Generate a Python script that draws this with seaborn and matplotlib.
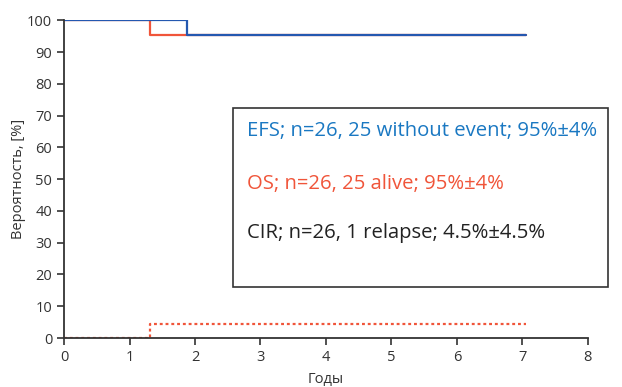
import matplotlib
matplotlib.use("Agg")
import matplotlib.pyplot as plt
import seaborn as sns
import pandas as pd
from matplotlib.patches import Rectangle

efs_t = [0, 1.88, 7.05]
efs_v = [100, 95.5, 95.5]
os_t = [0, 1.32, 7.05]
os_v = [100, 95.5, 95.5]
cir_t = [0, 1.32, 7.05]
cir_v = [0, 4.5, 4.5]

legend_lines = ["EFS; n=26, 25 without event; 95%±4%",
                "OS; n=26, 25 alive; 95%±4%",
                "CIR; n=26, 1 relapse; 4.5%±4.5%"]

sns.set_style("ticks")
plt.rcParams['font.family'] = ['Open Sans', 'DejaVu Sans']

fig = plt.figure(figsize=(6.22, 3.87), dpi=100)
ax = fig.add_axes([0.103, 0.1266, 0.842, 0.821])

blue = "#2458b0"
red = "#f0553a"

sns.lineplot(x=os_t, y=os_v, ax=ax, drawstyle="steps-post", color=red, lw=1.6, estimator=None)
sns.lineplot(x=cir_t, y=cir_v, ax=ax, drawstyle="steps-post", color=red, lw=1.6, ls=(0, (1.3, 1.3)), estimator=None)
sns.lineplot(x=efs_t, y=efs_v, ax=ax, drawstyle="steps-post", color=blue, lw=1.6, estimator=None)

ax.set_xlim(0, 8)
ax.set_ylim(0, 100)
ax.set_xticks(range(0, 9))
ax.set_yticks(range(0, 101, 10))
ax.tick_params(labelsize=10.5, colors="#333333", length=5, width=1.2)
for s in ["left", "bottom"]:
    ax.spines[s].set_linewidth(1.3)
    ax.spines[s].set_color("#333333")
sns.despine(ax=ax)
ax.set_xlabel("Годы", fontsize=10.5, color="#333333")
ax.set_ylabel("Вероятность, [%]", fontsize=10.5, color="#333333")
ax.yaxis.set_label_coords(-0.073, 0.5)
ax.xaxis.set_label_coords(0.5, -0.108)

rect = Rectangle((233/622, 1-287/387), (608-233)/622, (287-108)/387,
                 transform=fig.transFigure, fill=False, edgecolor="#333333", lw=1.2)
fig.add_artist(rect)
cols = ["#1a78c2", "#f0553a", "#222222"]
ys = [131, 184, 233]
for txt, c, y in zip(legend_lines, cols, ys):
    fig.text(247/622, 1-y/387, txt, color=c, fontsize=14.6, va="center", ha="left")

fig.savefig("out.png", dpi=100)
